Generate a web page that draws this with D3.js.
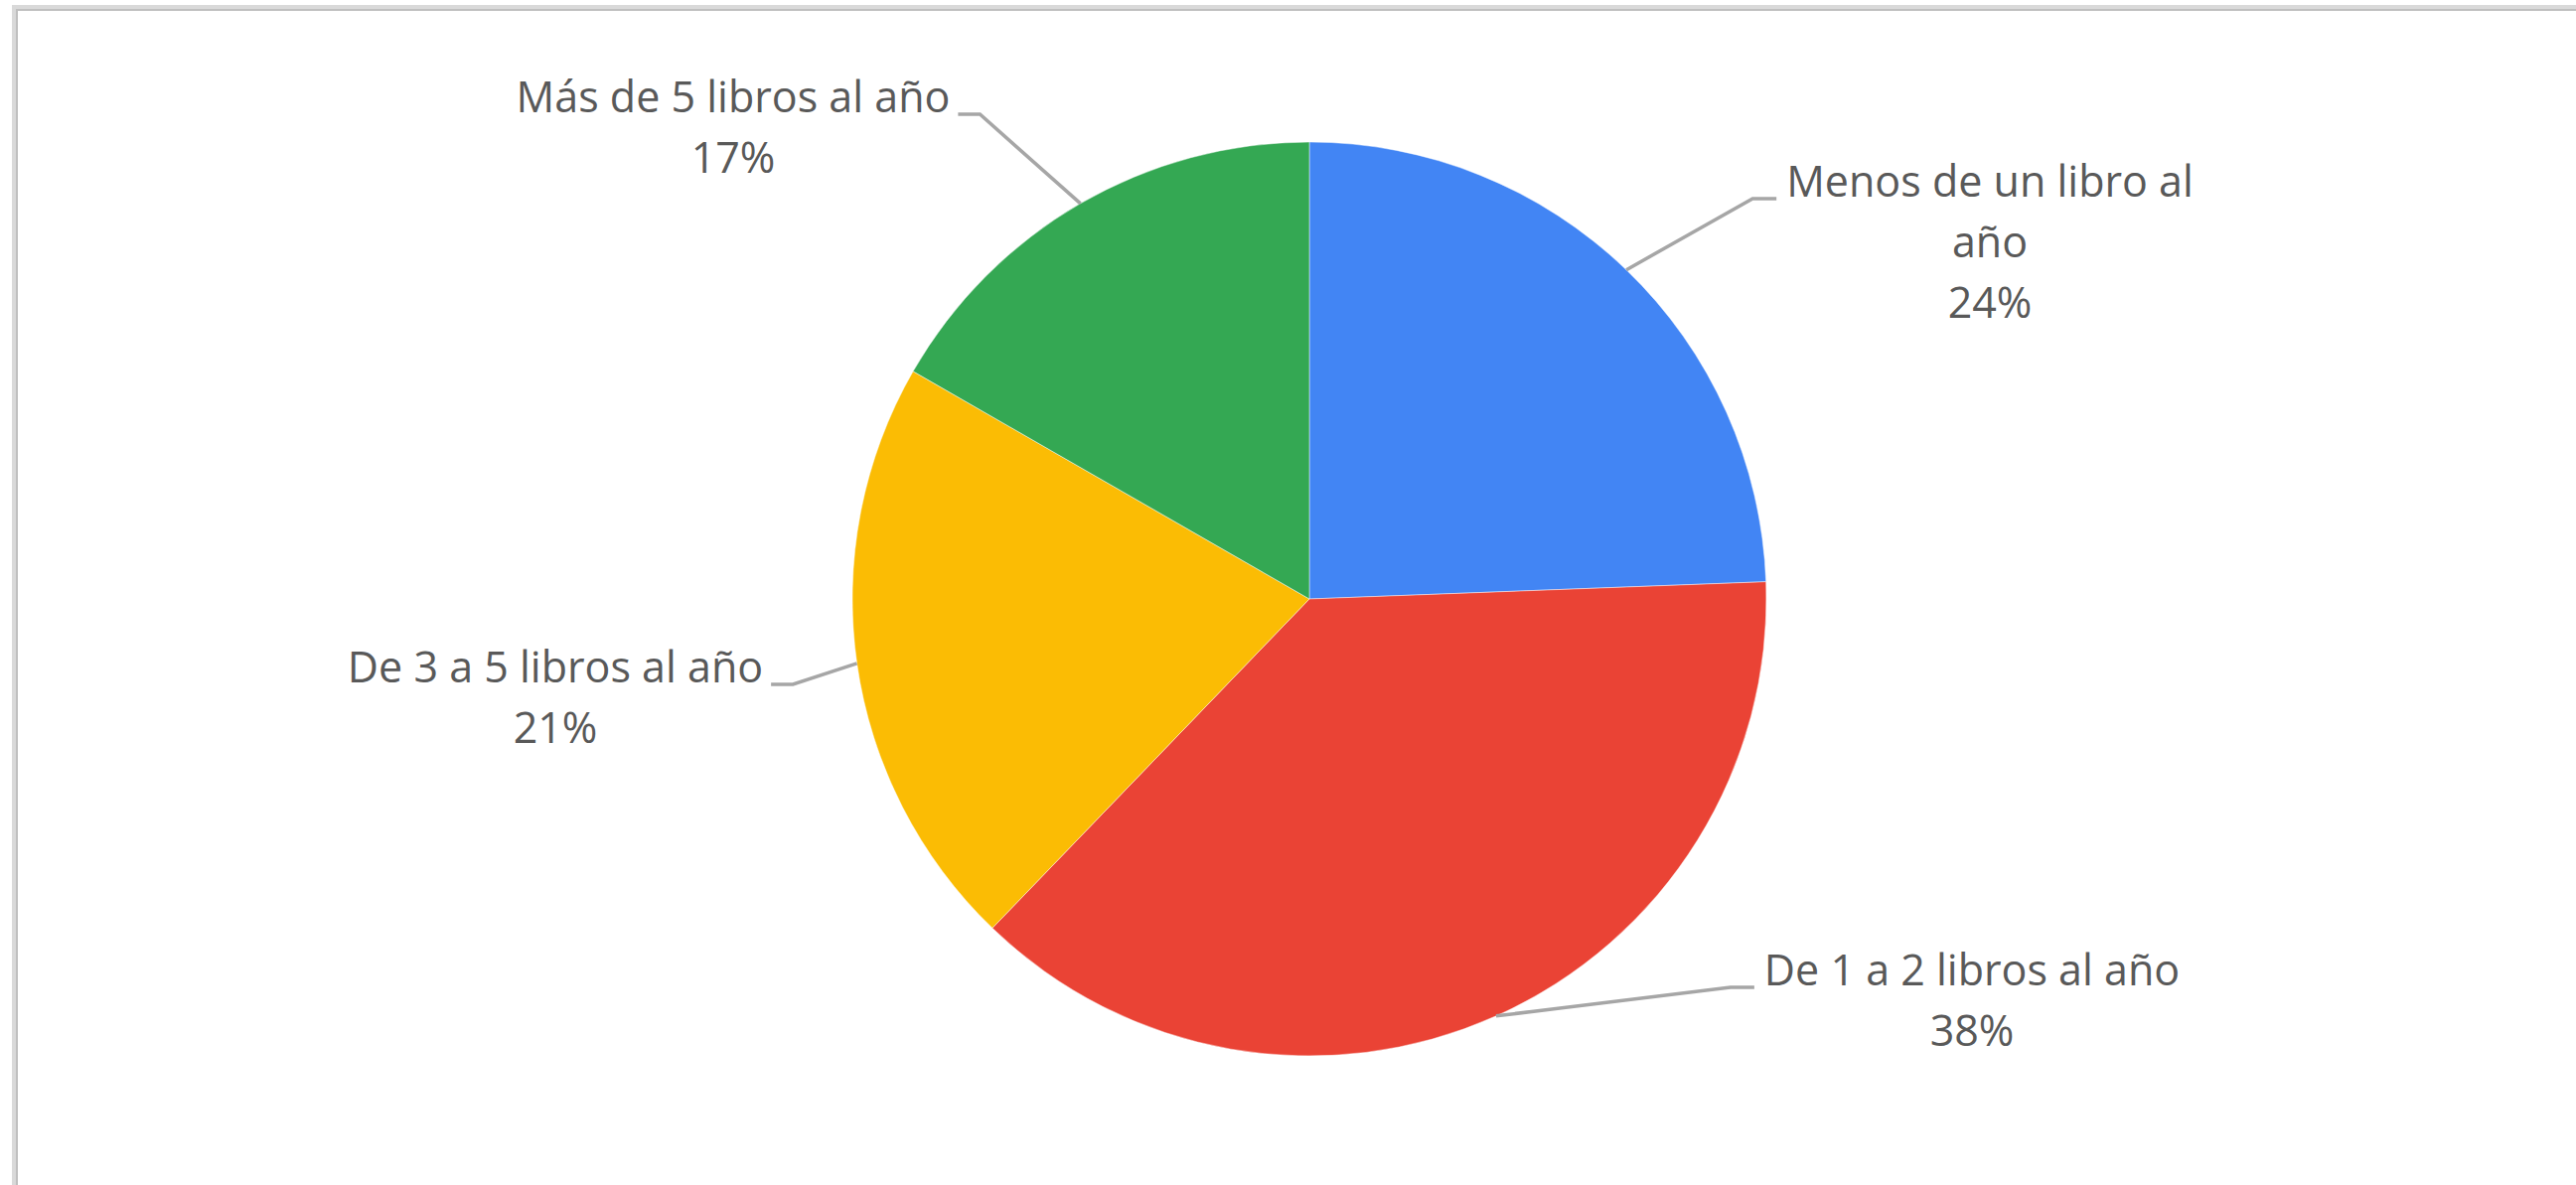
<!DOCTYPE html>
<html>
<head>
<meta charset="utf-8">
<script src="https://cdn.jsdelivr.net/npm/d3@7"></script>
<style>
  html, body { margin: 0; padding: 0; background: #ffffff; }
  svg { display: block; }
</style>
</head>
<body>
<script>
// ---- data ----
const categories = ["Menos de un libro al año", "De 1 a 2 libros al año", "De 3 a 5 libros al año", "Más de 5 libros al año"];
const values = [24.4, 37.8, 21.1, 16.7];
const colors = ["#4285F4", "#EA4335", "#FBBC04", "#34A853"];

// ---- layout ----
const W = 2593, H = 1193;
const cx = 1318, cy = 603, R = 460;
const fontSize = 43, lineH = 61, wrapWidth = 460;
// label box placement (centre x, first baseline, which side of the pie)
const labelLayout = [
  { x: 2003, y: 198, side: "right" },
  { x: 1985, y: 992, side: "right" },
  { x: 559,  y: 687, side: "left" },
  { x: 738,  y: 113, side: "left" }
];

const svg = d3.select("body").append("svg").attr("width", W).attr("height", H);

// chart frame
svg.append("rect").attr("x", 12).attr("y", 5).attr("width", W - 12).attr("height", 4).attr("fill", "#d9d9d9");
svg.append("rect").attr("x", 12).attr("y", 5).attr("width", 4).attr("height", H - 5).attr("fill", "#d9d9d9");
svg.append("rect").attr("x", 16).attr("y", 9).attr("width", W - 16).attr("height", 2).attr("fill", "#bfbfbf");
svg.append("rect").attr("x", 16).attr("y", 9).attr("width", 2).attr("height", H - 9).attr("fill", "#bfbfbf");

const total = d3.sum(values);
const data = categories.map((c, i) => ({ name: c, value: values[i], color: colors[i], layout: labelLayout[i] }));

const pie = d3.pie().value(d => d.value).sort(null);
const arcs = pie(data);
const arc = d3.arc().innerRadius(0).outerRadius(R);

const g = svg.append("g").attr("transform", `translate(${cx},${cy})`);
g.selectAll("path.slice").data(arcs).join("path")
  .attr("class", "slice")
  .attr("d", arc)
  .attr("fill", d => d.data.color)
  .attr("stroke", "#ffffff")
  .attr("stroke-opacity", 0.6)
  .attr("stroke-width", 0.75);

const fmt = d3.format(".0%");
const labelsG = svg.append("g");
const leadersG = svg.append("g");

function measure(text) {
  const t = svg.append("text").attr("font-family", "'Open Sans', sans-serif").attr("font-size", fontSize).text(text);
  const w = t.node().getComputedTextLength();
  t.remove();
  return w;
}
function wrap(text) {
  const words = text.split(" ");
  const lines = [];
  let cur = "";
  words.forEach(w => {
    const test = cur ? cur + " " + w : w;
    if (cur && measure(test) > wrapWidth) { lines.push(cur); cur = w; }
    else cur = test;
  });
  if (cur) lines.push(cur);
  return lines;
}

arcs.forEach(a => {
  const L = a.data.layout;
  const lines = wrap(a.data.name).concat([fmt(a.data.value / total)]);
  const t = labelsG.append("text")
    .attr("font-family", "'Open Sans', sans-serif")
    .attr("font-size", fontSize)
    .attr("fill", "#595959")
    .attr("text-anchor", "middle");
  lines.forEach((ln, i) => {
    t.append("tspan").attr("x", L.x).attr("y", L.y + i * lineH).text(ln);
  });
  const w0 = measure(lines[0]);
  // leader line: slice edge at mid-angle -> elbow -> stub at label edge
  const mid = (a.startAngle + a.endAngle) / 2;
  const sx = cx + R * Math.sin(mid), sy = cy - R * Math.cos(mid);
  const stubY = L.y + 2;
  let ex, bx;
  if (L.side === "right") { ex = L.x - w0 / 2 - 10; bx = ex - 24; }
  else { ex = L.x + w0 / 2 + 8; bx = ex + 22; }
  leadersG.append("path")
    .attr("d", d3.line()([[sx, sy], [bx, stubY], [ex, stubY]]))
    .attr("fill", "none")
    .attr("stroke", "#a6a6a6")
    .attr("stroke-width", 3.5);
});
</script>
</body>
</html>
